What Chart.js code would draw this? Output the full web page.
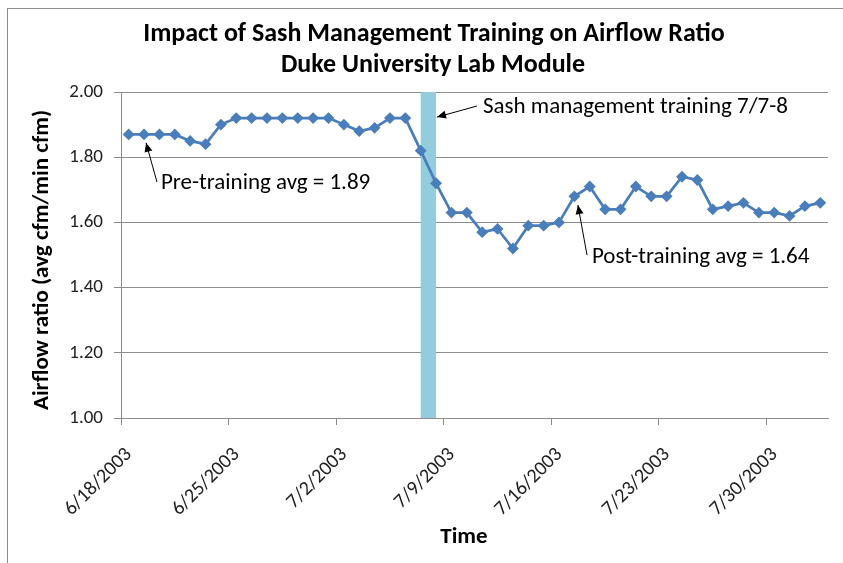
<!DOCTYPE html>
<html>
<head>
<meta charset="utf-8">
<script src="https://cdn.jsdelivr.net/npm/chart.js@4.4.1/dist/chart.umd.min.js"></script>
<style>
  html, body { margin: 0; padding: 0; background: #fff; }
  #wrap { width: 843px; height: 563px; position: relative; }
</style>
</head>
<body>
<div id="wrap"><canvas id="c" width="843" height="563"></canvas></div>
<script>
// ---------- DATA ----------
const dates = [
  '6/18/2003','6/19/2003','6/20/2003','6/21/2003','6/22/2003','6/23/2003','6/24/2003',
  '6/25/2003','6/26/2003','6/27/2003','6/28/2003','6/29/2003','6/30/2003','7/1/2003',
  '7/2/2003','7/3/2003','7/4/2003','7/5/2003','7/6/2003','7/7/2003','7/8/2003',
  '7/9/2003','7/10/2003','7/11/2003','7/12/2003','7/13/2003','7/14/2003','7/15/2003',
  '7/16/2003','7/17/2003','7/18/2003','7/19/2003','7/20/2003','7/21/2003','7/22/2003',
  '7/23/2003','7/24/2003','7/25/2003','7/26/2003','7/27/2003','7/28/2003','7/29/2003',
  '7/30/2003','7/31/2003','8/1/2003','8/2/2003'
];
const airflowRatio = [
  1.87,1.87,1.87,1.87,1.85,1.84,1.90,
  1.92,1.92,1.92,1.92,1.92,1.92,1.92,
  1.90,1.88,1.89,1.92,1.92,1.82,1.72,
  1.63,1.63,1.57,1.58,1.52,1.59,1.59,
  1.60,1.68,1.71,1.64,1.64,1.71,1.68,
  1.68,1.74,1.73,1.64,1.65,1.66,1.63,
  1.63,1.62,1.65,1.66
];
const tickLabels = ['6/18/2003','6/25/2003','7/2/2003','7/9/2003','7/16/2003','7/23/2003','7/30/2003'];
const trainingPeriod = ['7/7/2003','7/8/2003'];
const yTicks = [1.00,1.20,1.40,1.60,1.80,2.00];
const titleLines = ['Impact of Sash Management Training on Airflow Ratio','Duke University Lab Module'];
const xTitle = 'Time';
const yTitle = 'Airflow ratio (avg cfm/min cfm)';
// annotations: arrow head/tail in data units (date + day offset, value), text anchor
const annotations = [
  { text: 'Pre-training avg = 1.89',        ref: '6/19/2003', head: [0.13, 1.844], tail: [0.84, 1.724], textAt: [1.10, 1.72] },
  { text: 'Sash management training 7/7-8', ref: '7/8/2003',  head: [0.06, 1.923], tail: [2.66, 1.957], textAt: [3.05, 1.954] },
  { text: 'Post-training avg = 1.64',       ref: '7/17/2003', head: [0.23, 1.653], tail: [0.82, 1.500], textAt: [1.14, 1.494] }
];

// ---------- HELPERS ----------
const FONT = 'Carlito, Lato, "Open Sans", sans-serif';
const startDate = dates[0];
function dayIndex(s) {
  const [m, d, y] = s.split('/').map(Number);
  const [m0, d0, y0] = startDate.split('/').map(Number);
  return Math.round((Date.UTC(y, m - 1, d) - Date.UTC(y0, m0 - 1, d0)) / 86400000);
}
const points = dates.map((d, i) => ({ x: dayIndex(d) + 0.5, y: airflowRatio[i] }));
const xMax = dayIndex(dates[dates.length - 1]) + 1;

const overlay = {
  id: 'overlay',
  beforeDatasetsDraw(chart) {
    const { ctx, chartArea, scales } = chart;
    const x0 = scales.x.getPixelForValue(dayIndex(trainingPeriod[0]) + 0.5);
    const x1 = scales.x.getPixelForValue(dayIndex(trainingPeriod[1]) + 0.5);
    ctx.save();
    ctx.fillStyle = '#93CDDD';
    ctx.fillRect(x0, chartArea.top, x1 - x0, chartArea.bottom - chartArea.top);
    ctx.restore();
  },
  afterDraw(chart) {
    const { ctx, chartArea, scales } = chart;
    const X = scales.x, Y = scales.y;
    ctx.save();
    // outer border
    ctx.strokeStyle = '#8c8c8c';
    ctx.lineWidth = 1;
    ctx.strokeRect(7.5, 8.5, 1000, 1000);
    // title
    ctx.fillStyle = '#000';
    ctx.textAlign = 'center';
    ctx.textBaseline = 'middle';
    ctx.font = 'bold 26px ' + FONT;
    ctx.fillText(titleLines[0], 434, 34);
    ctx.fillText(titleLines[1], 433, 65);
    // x title
    ctx.font = 'bold 23px ' + FONT;
    ctx.fillText(xTitle, 464, 537);
    // y title
    ctx.save();
    ctx.translate(42, (chartArea.top + chartArea.bottom) / 2 + 5);
    ctx.rotate(-Math.PI / 2);
    ctx.font = 'bold 23px ' + FONT;
    ctx.fillText(yTitle, 0, 0);
    ctx.restore();
    // annotations
    ctx.font = '23px ' + FONT;
    ctx.textAlign = 'left';
    annotations.forEach(a => {
      const base = dayIndex(a.ref) + 0.5;
      const hx = X.getPixelForValue(base + a.head[0]), hy = Y.getPixelForValue(a.head[1]);
      const tx = X.getPixelForValue(base + a.tail[0]), ty = Y.getPixelForValue(a.tail[1]);
      ctx.strokeStyle = '#000';
      ctx.fillStyle = '#000';
      ctx.lineWidth = 1;
      ctx.beginPath(); ctx.moveTo(tx, ty); ctx.lineTo(hx, hy); ctx.stroke();
      const ang = Math.atan2(hy - ty, hx - tx);
      const L = 9, W = 4;
      ctx.beginPath();
      ctx.moveTo(hx, hy);
      ctx.lineTo(hx - L * Math.cos(ang) + W * Math.sin(ang), hy - L * Math.sin(ang) - W * Math.cos(ang));
      ctx.lineTo(hx - L * Math.cos(ang) - W * Math.sin(ang), hy - L * Math.sin(ang) + W * Math.cos(ang));
      ctx.closePath(); ctx.fill();
      ctx.fillText(a.text, X.getPixelForValue(base + a.textAt[0]), Y.getPixelForValue(a.textAt[1]));
    });
    ctx.restore();
  }
};

new Chart(document.getElementById('c'), {
  type: 'line',
  data: {
    datasets: [{
      data: points,
      borderColor: '#4A7EBB',
      backgroundColor: '#4A7EBB',
      borderWidth: 2.75,
      pointStyle: 'rectRot',
      pointRadius: 4,
      pointHoverRadius: 4,
      tension: 0,
      fill: false
    }]
  },
  options: {
    responsive: false,
    animation: false,
    events: [],
    layout: { padding: { left: 0, top: 92, right: 15, bottom: 0 } },
    plugins: { legend: { display: false }, title: { display: false }, tooltip: { enabled: false } },
    scales: {
      x: {
        type: 'linear',
        min: 0,
        max: xMax,
        afterFit(s) { s.height = 145; },
        afterBuildTicks(s) { s.ticks = tickLabels.map(t => ({ value: dayIndex(t) })); },
        ticks: {
          autoSkip: false,
          maxRotation: 45,
          minRotation: 45,
          padding: 18,
          labelOffset: 8,
          color: '#222',
          font: { family: FONT, size: 20 },
          callback(v) { const i = tickLabels.findIndex(t => dayIndex(t) === v); return i >= 0 ? tickLabels[i] : ''; }
        },
        grid: { drawOnChartArea: false, drawTicks: true, tickLength: 7, color: '#8c8c8c' },
        border: { display: true, color: '#8c8c8c', width: 1 }
      },
      y: {
        min: 1,
        max: 2,
        afterFit(s) { s.width = 121; },
        afterBuildTicks(s) { s.ticks = yTicks.map(v => ({ value: v })); },
        ticks: {
          padding: 11,
          color: '#222',
          font: { family: FONT, size: 19 },
          callback(v) { return Number(v).toFixed(2); }
        },
        grid: { color: '#8c8c8c', lineWidth: 1, tickLength: 7 },
        border: { display: true, color: '#8c8c8c', width: 1 }
      }
    }
  },
  plugins: [overlay]
});
</script>
</body>
</html>
